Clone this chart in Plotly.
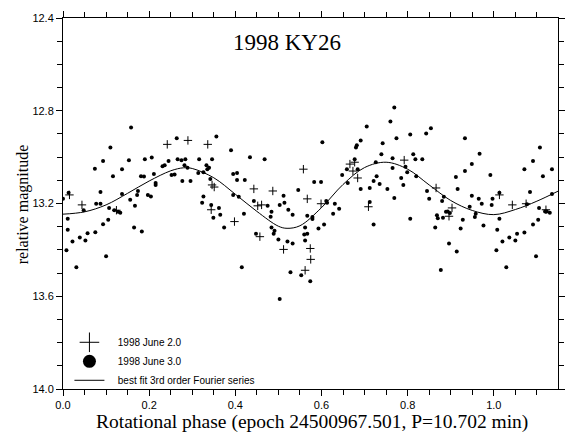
import plotly.graph_objects as go

# 1998 June 3.0 observations (dots)
june3_phase = [0.000, 0.013, 0.011, 0.011, 0.008, 0.022, 0.031, 0.039, 0.048, 0.052, 0.057, 0.074, 0.075, 0.077,
               0.087, 0.087, 0.093, 0.093, 0.100, 0.105, 0.107, 0.110, 0.116, 0.119, 0.128, 0.133, 0.137, 0.137,
               0.153, 0.156, 0.158, 0.165, 0.167, 0.172, 0.174, 0.181, 0.188, 0.183, 0.190, 0.197, 0.204, 0.206,
               0.211, 0.215, 0.215, 0.231, 0.236, 0.245, 0.252, 0.259, 0.264, 0.266, 0.275, 0.284, 0.277, 0.282,
               0.289,
               0.296, 0.314, 0.316, 0.323, 0.326, 0.326, 0.333, 0.335, 0.339, 0.342, 0.344, 0.346, 0.349, 0.356,
               0.362, 0.365, 0.374, 0.390, 0.395, 0.395, 0.404, 0.404, 0.408, 0.415, 0.420, 0.422, 0.434, 0.443,
               0.448, 0.468, 0.475, 0.482, 0.484, 0.484, 0.489, 0.491, 0.500, 0.503, 0.503, 0.512, 0.514, 0.521,
               0.523, 0.528, 0.533, 0.533, 0.546, 0.553, 0.560, 0.562, 0.562, 0.567, 0.567,
               0.574, 0.579, 0.579, 0.583, 0.593, 0.599, 0.602, 0.606, 0.611, 0.613, 0.627, 0.631, 0.641, 0.648,
               0.659, 0.661, 0.677, 0.680, 0.682, 0.684, 0.691, 0.691, 0.705, 0.712, 0.712, 0.721, 0.721, 0.726,
               0.728, 0.735, 0.739, 0.742, 0.753, 0.760, 0.765, 0.765, 0.769, 0.769, 0.774, 0.785, 0.790, 0.795,
               0.799, 0.806, 0.806, 0.813, 0.818, 0.820, 0.834, 0.843, 0.845, 0.850, 0.854,
               0.864, 0.868, 0.870, 0.877, 0.880, 0.882, 0.884, 0.889, 0.893, 0.896, 0.898, 0.912, 0.914, 0.916,
               0.923, 0.928, 0.933, 0.933, 0.944, 0.949, 0.949, 0.956, 0.958, 0.965, 0.967, 0.972, 0.976, 0.992,
               0.995, 0.997, 1.006, 1.008, 1.013, 1.013, 1.020, 1.029, 1.036, 1.050, 1.054, 1.071, 1.071, 1.077,
               1.084, 1.091, 1.091, 1.098, 1.103, 1.105, 1.107, 1.114, 1.119, 1.123, 1.130, 1.135, 1.135]
june3_mag = [13.180, 13.154, 13.266, 13.313, 13.402, 13.364, 13.475, 13.347, 13.229, 13.360, 13.328, 13.050, 13.324, 13.201,
             13.150, 13.201, 13.017, 13.290, 13.427, 13.270, 13.219, 12.958, 13.082, 13.229, 13.236, 13.240, 13.052, 13.159,
             13.013, 13.184, 12.872, 13.304, 13.210, 13.163, 13.146, 13.082, 13.084, 13.321, 13.009, 13.163, 13.170, 13.002,
             13.073, 13.112, 13.120, 13.039, 13.035, 13.017, 13.077, 13.075, 12.919, 13.009, 13.013, 13.009, 13.103, 13.035,
             13.046,
             13.103, 13.069, 13.009, 13.197, 13.170, 13.065, 13.035, 13.052, 13.046, 13.094, 13.206, 13.009, 13.261, 12.911,
             13.219, 13.248, 13.304, 12.970, 13.073, 13.163, 13.069, 13.099, 13.171, 13.475, 13.244, 13.099, 13.000, 13.189,
             13.330, 13.009, 13.210, 13.257, 13.236, 13.304, 13.330, 13.318, 13.355, 13.206, 13.612, 13.167, 13.197, 13.364,
             13.227, 13.497, 13.248, 13.373, 13.142, 13.509, 13.334, 13.304, 13.360, 13.253, 13.330,
             13.535, 13.258, 13.267, 13.107, 13.308, 13.107, 12.936, 13.291, 13.189, 13.197, 13.244, 13.201, 13.223, 13.077,
             13.052, 13.112, 13.009, 12.958, 12.949, 13.052, 12.928, 13.137, 12.868, 13.133, 13.193, 13.291, 13.103, 13.022,
             13.082, 13.116, 12.988, 12.940, 13.137, 12.846, 13.005, 13.047, 12.786, 13.176, 12.919, 13.090, 13.120, 13.042,
             13.065, 12.902, 13.266, 12.988, 13.009, 13.082, 13.009, 12.898, 13.146, 13.180, 12.876,
             13.304, 13.251, 13.264, 13.487, 13.189, 13.261, 13.171, 13.236, 13.235, 13.373, 13.241, 13.086, 13.407, 13.137,
             13.308, 13.270, 12.919, 13.060, 13.214, 13.167, 13.030, 13.258, 13.244, 13.180, 12.985, 13.201, 13.295, 13.077,
             13.206, 13.180, 13.402, 13.313, 13.266, 13.154, 13.364, 13.475, 13.347, 13.360, 13.330, 13.325, 13.052, 13.203,
             13.150, 13.291, 13.017, 13.428, 13.270, 13.219, 12.958, 13.082, 13.235, 13.234, 13.240, 13.052, 13.159]

# 1998 June 2.0 observations (plus signs)
june2_phase = [0.015, 0.044, 0.124, 0.242, 0.290, 0.336, 0.344, 0.346, 0.351, 0.398, 0.443, 0.452, 0.461, 0.457,
               0.487, 0.512, 0.558, 0.567, 0.562, 0.574, 0.575, 0.599, 0.666, 0.673, 0.677, 0.684, 0.709, 0.792,
               0.866, 0.896, 0.903, 1.013, 1.043, 1.075, 1.121]
june2_mag = [13.163, 13.206, 13.229, 12.945, 12.928, 12.945, 13.227, 13.120, 13.129, 13.278, 13.137, 13.210, 13.206, 13.343,
             13.146, 13.398, 13.052, 13.180, 13.488, 13.394, 13.441, 13.201, 13.030, 13.060, 13.022, 13.090, 13.214, 13.013,
             13.133, 13.255, 13.219, 13.163, 13.206, 13.201, 13.227]

# best-fit 3rd order Fourier series
fit_phase = [0.00, 0.05, 0.10, 0.15, 0.20, 0.25, 0.28, 0.30, 0.35, 0.40, 0.45, 0.50, 0.52, 0.55,
             0.60, 0.65, 0.70, 0.75, 0.80, 0.85, 0.90, 0.95, 1.00, 1.05, 1.10, 1.15]
fit_mag = [13.246, 13.236, 13.206, 13.156, 13.103, 13.059, 13.046, 13.049, 13.089, 13.160, 13.234, 13.298, 13.307, 13.296,
           13.218, 13.118, 13.045, 13.022, 13.052, 13.120, 13.187, 13.230, 13.248, 13.226, 13.190, 13.146]

x_ticks = [0.0, 0.2, 0.4, 0.6, 0.8, 1.0]
y_ticks = [12.4, 12.8, 13.2, 13.6, 14.0]
x_range = [0, 1.149]
y_range = [14.0, 12.4]

legend_names = ["1998 June 2.0", "1998 June 3.0", "best fit 3rd order Fourier series"]
pad = "\u00a0\u00a0\u00a0"

fig = go.Figure()
fig.add_trace(go.Scatter(
    x=june2_phase, y=june2_mag, mode="markers", showlegend=False,
    marker=dict(symbol="cross-thin-open", size=6, color="black", line=dict(color="black", width=1)),
))
fig.add_trace(go.Scatter(
    x=june3_phase, y=june3_mag, mode="markers", showlegend=False,
    marker=dict(symbol="circle", size=4, color="black", line=dict(width=0)),
))
fig.add_trace(go.Scatter(
    x=fit_phase, y=fit_mag, mode="lines", showlegend=False,
    line=dict(color="black", width=1, shape="spline"),
))
# legend entries
fig.add_trace(go.Scatter(
    x=[None], y=[None], mode="markers", name=pad + legend_names[0],
    marker=dict(symbol="cross-thin-open", size=14, color="black", line=dict(color="black", width=1)),
))
fig.add_trace(go.Scatter(
    x=[None], y=[None], mode="markers", name=pad + legend_names[1],
    marker=dict(symbol="circle", size=13, color="black", line=dict(width=0)),
))
fig.add_trace(go.Scatter(
    x=[None], y=[None], mode="lines", name=pad + legend_names[2],
    line=dict(color="black", width=1),
))
# helper trace for the mirrored (top/right) tick axes
fig.add_trace(go.Scatter(x=[None], y=[None], xaxis="x2", yaxis="y2", showlegend=False,
                         hoverinfo="skip", mode="markers"))

tickfont = dict(family="Liberation Sans, Arial, sans-serif", size=11, color="black")
base = dict(showline=True, linecolor="black", linewidth=1, ticks="outside", ticklen=6,
            tickcolor="black", tickwidth=1, showgrid=False, zeroline=False, tickfont=tickfont)

fig.update_layout(
    width=576, height=439,
    margin=dict(l=63, r=13, t=15, b=50),
    paper_bgcolor="white", plot_bgcolor="white",
    showlegend=True,
    xaxis=dict(range=x_range, tickvals=x_ticks, ticktext=[f"{v:.1f}" for v in x_ticks],
               minor=dict(dtick=0.05, tick0=0, ticks="outside", ticklen=5, tickcolor="black", showgrid=False),
               mirror=True, **base),
    yaxis=dict(range=y_range, tickvals=y_ticks, ticktext=[f"{v:.1f}" for v in y_ticks],
               minor=dict(dtick=0.1, tick0=12.4, ticks="outside", ticklen=5, tickcolor="black", showgrid=False),
               mirror=True, **base),
    xaxis2=dict(range=x_range, overlaying="x", side="top", anchor="y2", tickvals=x_ticks,
                showticklabels=False,
                minor=dict(dtick=0.05, tick0=0, ticks="outside", ticklen=5, tickcolor="black", showgrid=False),
                **base),
    yaxis2=dict(range=y_range, overlaying="y", side="right", anchor="x2", tickvals=y_ticks,
                showticklabels=False,
                minor=dict(dtick=0.1, tick0=12.4, ticks="outside", ticklen=5, tickcolor="black", showgrid=False),
                **base),
    legend=dict(
        x=0.013, y=0.165, xanchor="left", yanchor="top",
        bgcolor="rgba(0,0,0,0)", borderwidth=0,
        itemsizing="trace",
        font=dict(family="Liberation Sans, Arial, sans-serif", size=10, color="black"),
    ),
    annotations=[
        dict(text="1998 KY26", x=0.453, y=0.933, xref="paper", yref="paper",
             xanchor="center", yanchor="middle", showarrow=False,
             font=dict(family="Liberation Serif, Times New Roman, serif", size=23, color="black")),
        dict(text="Rotational phase (epoch 24500967.501, P=10.702 min)", x=0.504, y=-0.088,
             xref="paper", yref="paper", xanchor="center", yanchor="middle", showarrow=False,
             font=dict(family="Liberation Serif, Times New Roman, serif", size=19.5, color="black")),
        dict(text="relative magnitude", x=-0.082, y=0.499, xref="paper", yref="paper",
             xanchor="center", yanchor="middle", showarrow=False, textangle=-90,
             font=dict(family="Liberation Serif, Times New Roman, serif", size=16, color="black")),
    ],
)

fig.write_html("out.html")
